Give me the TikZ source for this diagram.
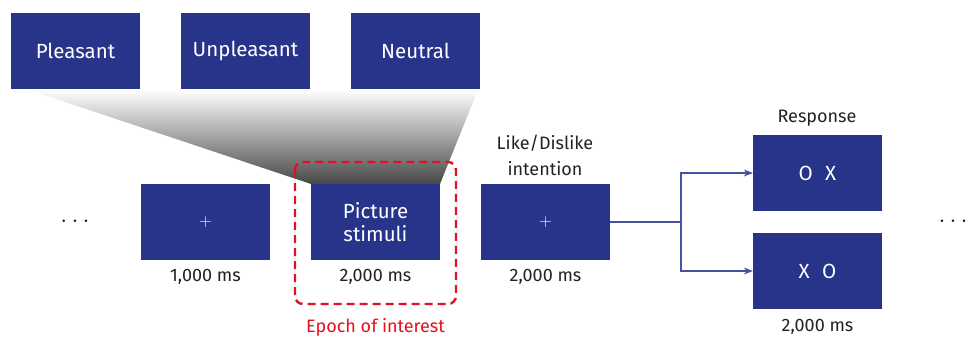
\documentclass[tikz,border=0pt]{standalone}
\usepackage{fontspec}
\setmainfont{Fira Sans}
\usetikzlibrary{arrows.meta}
\definecolor{boxblue}{RGB}{40,52,138}
\definecolor{linkblue}{RGB}{70,82,160}
\definecolor{epochred}{RGB}{226,16,32}
\definecolor{txt}{RGB}{34,34,34}
\tikzset{
  x=1pt, y=-1pt,
  stim/.style={fill=boxblue, text=white, minimum width=129pt, minimum height=76pt,
    inner sep=0pt, font=\fontsize{20.5}{24}\selectfont, align=center},
  fixcross/.style={stim, font=\fontsize{19}{19}\selectfont},
  lbl/.style={text=txt, font=\fontsize{18}{26}\selectfont, align=center, inner sep=0pt},
  dots/.style={text=txt, font=\fontsize{26}{26}\selectfont, inner sep=0pt},
  link/.style={draw=linkblue, line width=1.3pt},
}
\begin{document}
\begin{tikzpicture}
\useasboundingbox (0,0) rectangle (973,337);

% category boxes
\node[stim] (pleas) at (75.5,51) {Pleasant};
\node[stim] (unpleas) at (245.5,51) {Unpleasant};
\node[stim] (neutral) at (415.5,51) {Neutral};

% funnel from the categories down to the picture stimuli
\coordinate (fl) at ([xshift=16pt]pleas.south west);
\coordinate (fr) at ([xshift=-2pt]neutral.south east);
\coordinate (pl) at (311,184);
\coordinate (pr) at (440,184);
\shade[top color=white, bottom color=black!72] (fl) -- (fr) -- (pr) -- (pl) -- cycle;

% trial sequence
\node[dots] (dotsl) at (75,222) {$\cdots$};
\node[fixcross] (fix) at (205.5,222) {$+$};
\node[stim] (pic) at (375.5,222) {Picture\\[-1pt]stimuli};
\node[fixcross] (like) at (545.5,222) {$+$};
\node[stim] (ox) at (817.5,173) {O\hspace{0.6em}X};
\node[stim] (xo) at (817.5,271) {X\hspace{0.6em}O};
\node[dots] (dotsr) at (953,222) {$\cdots$};

% durations and captions
\node[lbl] (d1) at (205.5,277) {1,000 ms};
\node[lbl] (d2) at (375.5,277) {2,000 ms};
\node[lbl] (d3) at (545.5,277) {2,000 ms};
\node[lbl] (d4) at (817.5,327) {2,000 ms};
\node[lbl] (intent) at (545,155) {Like/Dislike\\intention};
\node[lbl] (resp) at (817,118) {Response};
\node[lbl, text=epochred] (epoch) at (375.5,327) {Epoch of interest};

% epoch of interest frame
\draw[epochred, line width=2.4pt, dash pattern=on 8pt off 5pt, rounded corners=8pt]
  (295,162) rectangle (456,304);

% branching to the two response mappings
\draw[link] (like.east) -- (681,222) coordinate (split);
\draw[link, -{Stealth[length=9pt,width=7pt]}] (split) |- (ox.west);
\draw[link, -{Stealth[length=9pt,width=7pt]}] (split) |- (xo.west);
\end{tikzpicture}
\end{document}
